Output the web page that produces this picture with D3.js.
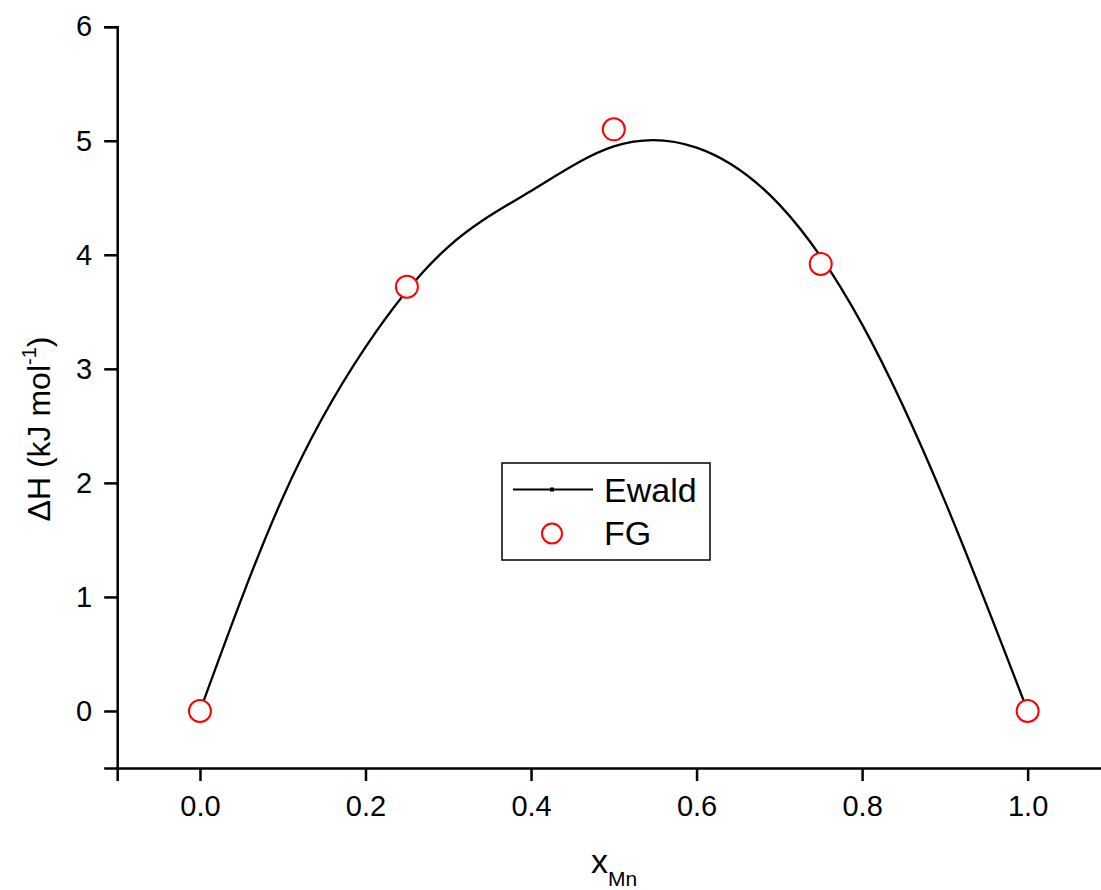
<!DOCTYPE html>
<html>
<head>
<meta charset="utf-8">
<script src="https://cdn.jsdelivr.net/npm/d3@7"></script>
<style>
  body { margin: 0; background: #fff; }
  svg { display: block; font-family: "Liberation Sans", Arial, sans-serif; }
</style>
</head>
<body>
<svg id="chart" width="1101" height="890"></svg>
<script>
// Enthalpy of mixing vs x_Mn: Ewald curve + FG points

const ewaldX = [0, 0.1, 0.2, 0.3, 0.4, 0.5, 0.6, 0.7, 0.8, 0.9, 1.0];
const ewaldY = [0, 1.87, 3.19, 4.07, 4.56, 4.95, 4.94, 4.44, 3.39, 1.84, 0];

const fgX = [0, 0.25, 0.5, 0.75, 1.0];
const fgY = [0, 3.72, 5.10, 3.92, 0];

const xMajor = [0, 0.2, 0.4, 0.6, 0.8, 1.0];
const xMinor = [-0.1, 0.1, 0.3, 0.5, 0.7, 0.9];
const yMajor = [0, 1, 2, 3, 4, 5, 6];
const yMinor = [-0.5, 0.5, 1.5, 2.5, 3.5, 4.5, 5.5];

const svg = d3.select('#chart');

const x = d3.scaleLinear().domain([-0.1, 1.1]).range([117.2, 1110.4]);
const y = d3.scaleLinear().domain([-0.5, 6]).range([768, 26.7]);

const axisWidth = 2.5;
const fontFamily = '"Liberation Sans", Arial, sans-serif';

// x axis
const xAxisG = svg.append('g').attr('transform', `translate(0,${y(-0.5)})`);
xAxisG.call(d3.axisBottom(x).tickValues(xMinor).tickSize(7).tickFormat(''));
xAxisG.call(d3.axisBottom(x).tickValues(xMajor).tickSize(13).tickPadding(14)
  .tickFormat(d3.format('.1f')));
xAxisG.selectAll('.domain').attr('stroke-width', axisWidth);
xAxisG.selectAll('.tick line').attr('stroke-width', axisWidth);
xAxisG.selectAll('.tick text').attr('font-size', 29).attr('fill', '#000')
  .attr('font-family', fontFamily);

// y axis
const yAxisG = svg.append('g').attr('transform', `translate(${x(-0.1)},0)`);
yAxisG.call(d3.axisLeft(y).tickValues(yMinor).tickSize(6).tickFormat(''));
yAxisG.call(d3.axisLeft(y).tickValues(yMajor).tickSize(13).tickPadding(12)
  .tickFormat(d3.format('d')));
yAxisG.selectAll('.domain').attr('stroke-width', axisWidth);
yAxisG.selectAll('.tick line').attr('stroke-width', axisWidth);
yAxisG.selectAll('.tick text').attr('font-size', 29).attr('fill', '#000')
  .attr('font-family', fontFamily);

// Ewald curve
const ewald = ewaldX.map((d, i) => ({ x: d, y: ewaldY[i] }));
const line = d3.line()
  .x(d => x(d.x))
  .y(d => y(d.y))
  .curve(d3.curveNatural);

svg.append('path')
  .datum(ewald)
  .attr('fill', 'none')
  .attr('stroke', '#000')
  .attr('stroke-width', 2.3)
  .attr('d', line);

// FG points
const fg = fgX.map((d, i) => ({ x: d, y: fgY[i] }));
svg.append('g')
  .selectAll('circle')
  .data(fg)
  .join('circle')
  .attr('cx', d => x(d.x))
  .attr('cy', d => y(d.y))
  .attr('r', 11)
  .attr('fill', '#fff')
  .attr('stroke', '#f00')
  .attr('stroke-width', 2);

// legend
const legend = svg.append('g').attr('transform', 'translate(502,463)');
legend.append('rect')
  .attr('width', 208).attr('height', 97)
  .attr('fill', '#fff').attr('stroke', '#000').attr('stroke-width', 1.5);
legend.append('line')
  .attr('x1', 11).attr('x2', 91).attr('y1', 26.5).attr('y2', 26.5)
  .attr('stroke', '#000').attr('stroke-width', 2);
legend.append('rect')
  .attr('x', 48).attr('y', 24.5).attr('width', 4).attr('height', 4).attr('fill', '#000');
legend.append('text').attr('x', 102).attr('y', 38.5)
  .attr('font-size', 34).text('Ewald');
legend.append('circle')
  .attr('cx', 50).attr('cy', 70.5).attr('r', 10)
  .attr('fill', '#fff').attr('stroke', '#f00').attr('stroke-width', 2);
legend.append('text').attr('x', 102).attr('y', 81.5)
  .attr('font-size', 34).text('FG');

// axis titles
const xTitle = svg.append('text')
  .attr('x', 614).attr('y', 873)
  .attr('text-anchor', 'middle')
  .attr('font-size', 34);
xTitle.append('tspan').text('x');
xTitle.append('tspan').attr('font-size', 21).attr('dy', 13).text('Mn');

const yTitle = svg.append('text')
  .attr('transform', 'translate(50,429) rotate(-90)')
  .attr('text-anchor', 'middle')
  .attr('font-size', 32);
yTitle.append('tspan').text('ΔH (kJ mol');
yTitle.append('tspan').attr('font-size', 20).attr('dy', -14).text('-1');
yTitle.append('tspan').attr('dy', 14).text(')');
</script>
</body>
</html>
